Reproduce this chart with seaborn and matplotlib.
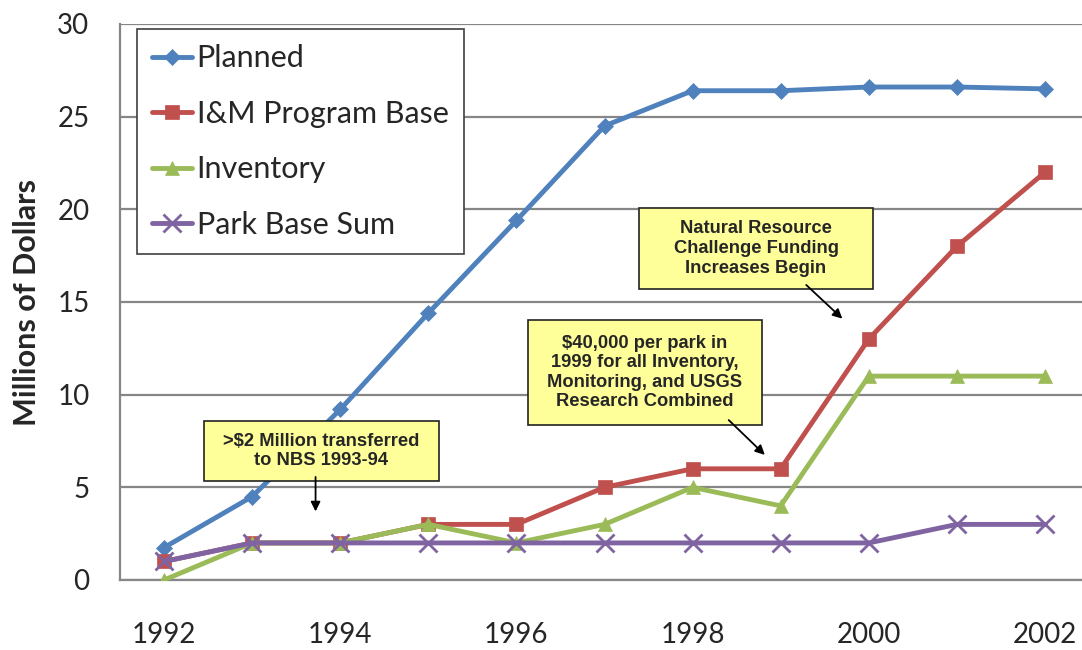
import matplotlib
matplotlib.use("Agg")
import matplotlib.pyplot as plt
from matplotlib.patches import Rectangle
import seaborn as sns
import pandas as pd

# data
years = [1992, 1993, 1994, 1995, 1996, 1997, 1998, 1999, 2000, 2001, 2002]
planned = [1.75, 4.5, 9.2, 14.4, 19.4, 24.5, 26.4, 26.4, 26.6, 26.6, 26.5]
im_base = [1, 2, 2, 3, 3, 5, 6, 6, 13, 18, 22]
inventory = [0, 2, 2, 3, 2, 3, 5, 4, 11, 11, 11]
park_base = [1, 2, 2, 2, 2, 2, 2, 2, 2, 3, 3]

series_names = ["Planned", "I&M Program Base", "Inventory", "Park Base Sum"]
series_values = [planned, im_base, inventory, park_base]
series_colors = ["#4F81BD", "#C0504D", "#9BBB59", "#8064A2"]
series_markers = ["D", "s", "^", "x"]
series_msize = [8, 10, 10, 13]

year_labels = [1992, 1994, 1996, 1998, 2000, 2002]
y_ticks = [0, 5, 10, 15, 20, 25, 30]

notes = [
    {"text": ">$2 Million transferred\nto NBS 1993-94",
     "box": (1992.45, 5.34, 2.67, 3.24), "arrow": ((1993.72, 5.56), (1993.72, 3.7))},
    {"text": "$40,000 per park in\n1999 for all Inventory,\nMonitoring, and USGS\nResearch Combined",
     "box": (1996.13, 8.36, 2.66, 5.67), "arrow": ((1998.41, 8.63), (1998.82, 6.75))},
    {"text": "Natural Resource\nChallenge Funding\nIncreases Begin",
     "box": (1997.39, 15.70, 2.66, 4.38), "arrow": ((1999.29, 15.92), (1999.70, 14.1))},
]

df = pd.DataFrame({"Year": years})
for name, vals in zip(series_names, series_values):
    df[name] = vals

sns.set_style("white")
plt.rcParams["font.family"] = ["Lato", "DejaVu Sans"]

fig = plt.figure(figsize=(10.82, 6.5), dpi=100)
ax = fig.add_axes([120 / 1082, 1 - 580 / 650, (1089 - 120) / 1082, (580 - 24) / 650])

for name, color, mk, ms in zip(series_names, series_colors, series_markers, series_msize):
    sns.lineplot(data=df, x="Year", y=name, ax=ax, color=color, linewidth=3.5,
                 marker=mk, markersize=ms, markeredgewidth=2 if mk == "x" else 0.5,
                 markeredgecolor=color, label=name, zorder=3)

ax.set_xlim(1991.5, 2002.5)
ax.set_ylim(0, 30)
ax.set_yticks(y_ticks)
ax.set_xticks(year_labels)
ax.set_xticks([y - 0.5 for y in years], minor=True)
ax.set_xticklabels([str(y) for y in year_labels])
ax.tick_params(axis="x", which="major", length=0, pad=30, labelsize=20)
ax.tick_params(axis="x", which="minor", length=8, width=1.5, color="#868686", direction="out")
ax.tick_params(axis="y", length=7, width=1.5, color="#868686", direction="out", pad=15, labelsize=20)
ax.yaxis.grid(True, color="#868686", linewidth=1.6)
ax.set_axisbelow(True)
for s in ["top", "right"]:
    ax.spines[s].set_visible(False)
for s in ["left", "bottom"]:
    ax.spines[s].set_color("#868686")
    ax.spines[s].set_linewidth(1.6)

ax.set_xlabel("")
ax.set_ylabel("Millions of Dollars", fontsize=22, fontweight="bold", labelpad=12)

for n in notes:
    x0, y0, w, h = n["box"]
    ax.add_patch(Rectangle((x0, y0), w, h, facecolor="#FFFF99", edgecolor="#222222",
                           linewidth=1.2, zorder=5))
    ax.text(x0 + w / 2, y0 + h / 2, n["text"], ha="center", va="center",
            fontsize=13.2, fontweight="bold", family="Liberation Sans",
            linespacing=1.2, zorder=6)
    (sx, sy), (ex, ey) = n["arrow"]
    ax.annotate("", xy=(ex, ey), xytext=(sx, sy),
                arrowprops=dict(arrowstyle="-|>", color="black", lw=1.3,
                                mutation_scale=14, shrinkA=0, shrinkB=0), zorder=6)

leg = ax.legend(loc="upper left", bbox_to_anchor=(137 / 1082, 1 - 29 / 650),
                bbox_transform=fig.transFigure, borderaxespad=0, fontsize=22,
                frameon=True, fancybox=False, framealpha=1, edgecolor="#404040",
                handlelength=1.3, handletextpad=0.15, labelspacing=0.9,
                borderpad=0.5)
leg.get_frame().set_linewidth(1.2)
leg.set_zorder(10)

fig.savefig("out.png", dpi=100)
